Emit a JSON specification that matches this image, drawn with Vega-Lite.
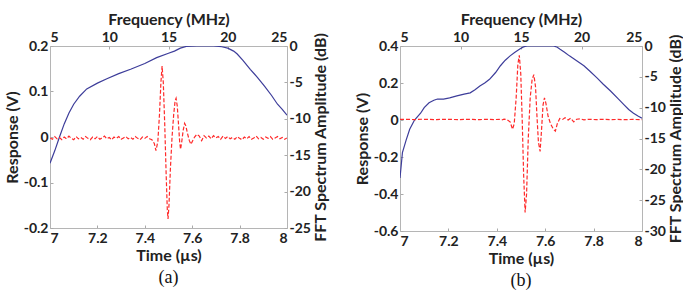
{
  "$schema": "https://vega.github.io/schema/vega-lite/v6.json",
  "background": "white",
  "padding": {"left": 4, "top": 11, "right": 0, "bottom": 0},
  "spacing": 25,
  "config": {
    "view": {"stroke": null},
    "axis": {
      "grid": false,
      "labelFont": "Lato", "labelFontWeight": "bold", "labelFontSize": 14, "labelColor": "#222",
      "titleFont": "Lato", "titleFontWeight": "bold", "titleFontSize": 16, "titleColor": "#222",
      "domainColor": "#b5b5b5", "tickColor": "#aaa", "tickSize": -3, "labelPadding": 5,
      "format": "~g",
      "labelExpr": "replace(datum.label, '\u2212', '-')"
    },
    "title": {"font": "Liberation Serif", "fontSize": 18, "fontWeight": "normal", "color": "#111", "orient": "bottom", "anchor": "middle", "offset": 6}
  },
  "datasets": {
    "fftA": [
      {"f": 5, "db": -16.1}, {"f": 5.4, "db": -14.4}, {"f": 5.8, "db": -12.5}, {"f": 6.2, "db": -10.7},
      {"f": 6.6, "db": -9.2}, {"f": 7.0, "db": -8.0}, {"f": 7.5, "db": -6.9}, {"f": 8.1, "db": -5.9},
      {"f": 9.0, "db": -5.1}, {"f": 9.8, "db": -4.5}, {"f": 10.8, "db": -3.8}, {"f": 11.8, "db": -3.2},
      {"f": 13.0, "db": -2.4}, {"f": 14.0, "db": -1.6}, {"f": 15.0, "db": -1.0}, {"f": 15.5, "db": -0.7},
      {"f": 16.0, "db": -0.3}, {"f": 16.5, "db": -0.05}, {"f": 17.4, "db": 0}, {"f": 18.8, "db": 0},
      {"f": 19.5, "db": -0.1}, {"f": 20, "db": -0.3}, {"f": 20.5, "db": -0.7}, {"f": 20.8, "db": -1.1},
      {"f": 21.3, "db": -2.0}, {"f": 21.9, "db": -3.2}, {"f": 22.5, "db": -4.3}, {"f": 23.1, "db": -5.5},
      {"f": 23.7, "db": -6.8}, {"f": 24.2, "db": -8.0}, {"f": 24.6, "db": -8.7}, {"f": 25, "db": -9.5}
    ],
    "sigA": [
      {"t": 7.00, "v": -0.002}, {"t": 7.01, "v": -0.005}, {"t": 7.02, "v": 0.001}, {"t": 7.03, "v": -0.004},
      {"t": 7.04, "v": -0.001}, {"t": 7.05, "v": -0.006}, {"t": 7.06, "v": 0.0}, {"t": 7.07, "v": -0.004},
      {"t": 7.08, "v": 0.002}, {"t": 7.09, "v": -0.003}, {"t": 7.10, "v": -0.006}, {"t": 7.11, "v": 0.001},
      {"t": 7.12, "v": -0.004}, {"t": 7.13, "v": -0.001}, {"t": 7.14, "v": -0.005}, {"t": 7.15, "v": 0.001},
      {"t": 7.16, "v": -0.003}, {"t": 7.17, "v": -0.006}, {"t": 7.18, "v": 0.0}, {"t": 7.19, "v": -0.004},
      {"t": 7.20, "v": 0.001}, {"t": 7.21, "v": -0.005}, {"t": 7.22, "v": -0.002}, {"t": 7.23, "v": 0.002},
      {"t": 7.24, "v": -0.004}, {"t": 7.25, "v": -0.001}, {"t": 7.26, "v": -0.006}, {"t": 7.27, "v": 0.0},
      {"t": 7.28, "v": -0.003}, {"t": 7.29, "v": 0.001}, {"t": 7.30, "v": -0.005}, {"t": 7.31, "v": -0.002},
      {"t": 7.32, "v": 0.001}, {"t": 7.33, "v": -0.004}, {"t": 7.34, "v": -0.001}, {"t": 7.35, "v": -0.005},
      {"t": 7.36, "v": 0.001}, {"t": 7.37, "v": -0.003}, {"t": 7.38, "v": -0.006}, {"t": 7.39, "v": 0.0},
      {"t": 7.40, "v": -0.003}, {"t": 7.41, "v": 0.001}, {"t": 7.42, "v": -0.004}, {"t": 7.43, "v": -0.006},
      {"t": 7.44, "v": -0.014}, {"t": 7.447, "v": -0.03}, {"t": 7.455, "v": -0.01}, {"t": 7.462, "v": 0.05},
      {"t": 7.468, "v": 0.12}, {"t": 7.473, "v": 0.156}, {"t": 7.478, "v": 0.12}, {"t": 7.484, "v": 0.03},
      {"t": 7.49, "v": -0.08}, {"t": 7.495, "v": -0.16}, {"t": 7.498, "v": -0.18}, {"t": 7.502, "v": -0.15},
      {"t": 7.508, "v": -0.07}, {"t": 7.515, "v": 0.0}, {"t": 7.522, "v": 0.05}, {"t": 7.528, "v": 0.08},
      {"t": 7.532, "v": 0.085}, {"t": 7.537, "v": 0.068}, {"t": 7.542, "v": 0.03}, {"t": 7.547, "v": -0.01},
      {"t": 7.551, "v": -0.027}, {"t": 7.556, "v": -0.01}, {"t": 7.562, "v": 0.015}, {"t": 7.568, "v": 0.03},
      {"t": 7.573, "v": 0.025}, {"t": 7.58, "v": 0.008}, {"t": 7.588, "v": -0.008}, {"t": 7.595, "v": -0.016},
      {"t": 7.602, "v": -0.008}, {"t": 7.61, "v": 0.0}, {"t": 7.62, "v": 0.006}, {"t": 7.63, "v": 0.002},
      {"t": 7.64, "v": -0.008}, {"t": 7.65, "v": 0.003}, {"t": 7.66, "v": -0.002}, {"t": 7.67, "v": 0.002},
      {"t": 7.68, "v": -0.004}, {"t": 7.69, "v": 0.003}, {"t": 7.70, "v": -0.002}, {"t": 7.71, "v": 0.001},
      {"t": 7.72, "v": -0.005}, {"t": 7.73, "v": 0.002}, {"t": 7.74, "v": -0.003}, {"t": 7.75, "v": 0.001},
      {"t": 7.76, "v": -0.004}, {"t": 7.77, "v": -0.001}, {"t": 7.78, "v": -0.005}, {"t": 7.79, "v": 0.001},
      {"t": 7.80, "v": -0.003}, {"t": 7.81, "v": -0.006}, {"t": 7.82, "v": 0.0}, {"t": 7.83, "v": -0.004},
      {"t": 7.84, "v": 0.001}, {"t": 7.85, "v": -0.005}, {"t": 7.86, "v": -0.002}, {"t": 7.87, "v": 0.002},
      {"t": 7.88, "v": -0.004}, {"t": 7.89, "v": -0.001}, {"t": 7.90, "v": -0.005}, {"t": 7.91, "v": 0.0},
      {"t": 7.92, "v": -0.003}, {"t": 7.93, "v": 0.001}, {"t": 7.94, "v": -0.005}, {"t": 7.95, "v": -0.002},
      {"t": 7.96, "v": 0.001}, {"t": 7.97, "v": -0.004}, {"t": 7.98, "v": -0.001}, {"t": 7.99, "v": -0.005},
      {"t": 8.00, "v": -0.002}
    ],
    "fftB": [
      {"f": 5, "db": -21.4}, {"f": 5.2, "db": -17.3}, {"f": 5.5, "db": -15.3}, {"f": 5.8, "db": -13.5},
      {"f": 6.2, "db": -12.0}, {"f": 6.7, "db": -10.9}, {"f": 7.0, "db": -10.0}, {"f": 7.4, "db": -9.2},
      {"f": 7.8, "db": -8.8}, {"f": 8.1, "db": -8.6}, {"f": 8.6, "db": -8.6}, {"f": 9.1, "db": -8.4},
      {"f": 9.7, "db": -8.1}, {"f": 10.3, "db": -7.8}, {"f": 10.8, "db": -7.6}, {"f": 11.2, "db": -7.1},
      {"f": 11.6, "db": -6.5}, {"f": 12.0, "db": -6.0}, {"f": 12.4, "db": -5.4}, {"f": 12.9, "db": -4.3},
      {"f": 13.3, "db": -3.2}, {"f": 13.7, "db": -2.3}, {"f": 14.1, "db": -1.6}, {"f": 14.5, "db": -1.0},
      {"f": 14.9, "db": -0.5}, {"f": 15.2, "db": -0.15}, {"f": 15.5, "db": 0}, {"f": 16.9, "db": 0},
      {"f": 17.7, "db": 0}, {"f": 18.0, "db": -0.2}, {"f": 18.2, "db": -0.5}, {"f": 18.6, "db": -1.0},
      {"f": 19.0, "db": -1.6}, {"f": 19.6, "db": -2.4}, {"f": 20.2, "db": -3.2}, {"f": 20.7, "db": -4.1},
      {"f": 21.3, "db": -5.2}, {"f": 21.8, "db": -6.2}, {"f": 22.4, "db": -7.3}, {"f": 23.0, "db": -8.5},
      {"f": 23.5, "db": -9.5}, {"f": 23.9, "db": -10.3}, {"f": 24.3, "db": -10.9}, {"f": 24.7, "db": -11.4},
      {"f": 25, "db": -11.7}
    ],
    "sigB": [
      {"t": 7.00, "v": 0.003}, {"t": 7.03, "v": 0.004}, {"t": 7.06, "v": 0.002}, {"t": 7.09, "v": 0.004},
      {"t": 7.12, "v": 0.003}, {"t": 7.15, "v": 0.002}, {"t": 7.18, "v": 0.004}, {"t": 7.21, "v": 0.003},
      {"t": 7.24, "v": 0.002}, {"t": 7.27, "v": 0.004}, {"t": 7.30, "v": 0.003}, {"t": 7.33, "v": 0.002},
      {"t": 7.36, "v": 0.004}, {"t": 7.39, "v": 0.002}, {"t": 7.41, "v": 0.004}, {"t": 7.42, "v": 0.0},
      {"t": 7.43, "v": 0.005}, {"t": 7.44, "v": 0.003}, {"t": 7.455, "v": -0.01}, {"t": 7.465, "v": -0.05},
      {"t": 7.472, "v": -0.02}, {"t": 7.48, "v": 0.12}, {"t": 7.487, "v": 0.3}, {"t": 7.493, "v": 0.35},
      {"t": 7.499, "v": 0.25}, {"t": 7.505, "v": 0.0}, {"t": 7.511, "v": -0.3}, {"t": 7.517, "v": -0.5},
      {"t": 7.523, "v": -0.4}, {"t": 7.53, "v": -0.1}, {"t": 7.538, "v": 0.12}, {"t": 7.546, "v": 0.22},
      {"t": 7.553, "v": 0.245}, {"t": 7.56, "v": 0.18}, {"t": 7.566, "v": 0.02}, {"t": 7.572, "v": -0.12},
      {"t": 7.579, "v": -0.17}, {"t": 7.585, "v": -0.05}, {"t": 7.591, "v": 0.08}, {"t": 7.597, "v": 0.12},
      {"t": 7.603, "v": 0.09}, {"t": 7.612, "v": 0.02}, {"t": 7.622, "v": -0.02}, {"t": 7.634, "v": -0.05},
      {"t": 7.642, "v": -0.06}, {"t": 7.65, "v": -0.02}, {"t": 7.66, "v": 0.008}, {"t": 7.672, "v": 0.003},
      {"t": 7.682, "v": 0.012}, {"t": 7.695, "v": 0.0}, {"t": 7.705, "v": 0.01}, {"t": 7.718, "v": -0.01},
      {"t": 7.73, "v": 0.004}, {"t": 7.745, "v": 0.006}, {"t": 7.76, "v": 0.001}, {"t": 7.78, "v": 0.004},
      {"t": 7.81, "v": 0.002}, {"t": 7.84, "v": 0.004}, {"t": 7.87, "v": 0.002}, {"t": 7.90, "v": 0.003},
      {"t": 7.93, "v": 0.002}, {"t": 7.96, "v": 0.003}, {"t": 8.00, "v": 0.002}
    ]
  },
  "hconcat": [
    {
      "width": 237, "height": 182,
      "title": {"text": "(a)"},
      "layer": [
        {
          "data": {"name": "fftA"},
          "mark": {"type": "line", "color": "#3d3d9a", "strokeWidth": 1.2, "clip": true},
          "encoding": {
            "x": {"field": "f", "type": "quantitative", "scale": {"domain": [5, 25], "nice": false},
                  "axis": {"orient": "top", "title": "Frequency (MHz)", "values": [5, 10, 15, 20, 25], "labelPadding": 5, "titlePadding": 3}},
            "y": {"field": "db", "type": "quantitative", "scale": {"domain": [-25, 0], "nice": false},
                  "axis": {"orient": "right", "title": "FFT Spectrum Amplitude (dB)", "titleAngle": 270, "titleBaseline": "top", "titlePadding": 2, "values": [-25, -20, -15, -10, -5, 0], "labelPadding": 5}}
          }
        },
        {
          "data": {"name": "sigA"},
          "mark": {"type": "line", "color": "#ff2a2a", "strokeWidth": 1.2, "strokeDash": [4, 2], "clip": true},
          "encoding": {
            "x": {"field": "t", "type": "quantitative", "scale": {"domain": [7, 8], "nice": false},
                  "axis": {"orient": "bottom", "title": "Time (µs)", "values": [7, 7.2, 7.4, 7.6, 7.8, 8], "labelPadding": 6, "titlePadding": 2}},
            "y": {"field": "v", "type": "quantitative", "scale": {"domain": [-0.2, 0.2], "nice": false, "zero": false},
                  "axis": {"orient": "left", "title": "Response (V)", "values": [-0.2, -0.1, 0, 0.1, 0.2], "labelPadding": 5, "titlePadding": 3}}
          }
        }
      ],
      "resolve": {"scale": {"x": "independent", "y": "independent"}}
    },
    {
      "width": 242, "height": 185,
      "title": {"text": "(b)"},
      "layer": [
        {
          "data": {"name": "fftB"},
          "mark": {"type": "line", "color": "#3d3d9a", "strokeWidth": 1.2, "clip": true},
          "encoding": {
            "x": {"field": "f", "type": "quantitative", "scale": {"domain": [5, 25], "nice": false},
                  "axis": {"orient": "top", "title": "Frequency (MHz)", "values": [5, 10, 15, 20, 25], "labelPadding": 5, "titlePadding": 3}},
            "y": {"field": "db", "type": "quantitative", "scale": {"domain": [-30, 0], "nice": false},
                  "axis": {"orient": "right", "title": "FFT Spectrum Amplitude (dB)", "titleAngle": 270, "titleBaseline": "top", "titlePadding": 2, "values": [-30, -25, -20, -15, -10, -5, 0], "labelPadding": 5}}
          }
        },
        {
          "data": {"name": "sigB"},
          "mark": {"type": "line", "color": "#ff2a2a", "strokeWidth": 1.2, "strokeDash": [4, 2], "clip": true},
          "encoding": {
            "x": {"field": "t", "type": "quantitative", "scale": {"domain": [7, 8], "nice": false},
                  "axis": {"orient": "bottom", "title": "Time (µs)", "values": [7, 7.2, 7.4, 7.6, 7.8, 8], "labelPadding": 6, "titlePadding": 2}},
            "y": {"field": "v", "type": "quantitative", "scale": {"domain": [-0.6, 0.4], "nice": false, "zero": false},
                  "axis": {"orient": "left", "title": "Response (V)", "values": [-0.6, -0.4, -0.2, 0, 0.2, 0.4], "labelPadding": 5, "titlePadding": 3}}
          }
        }
      ],
      "resolve": {"scale": {"x": "independent", "y": "independent"}}
    }
  ]
}
